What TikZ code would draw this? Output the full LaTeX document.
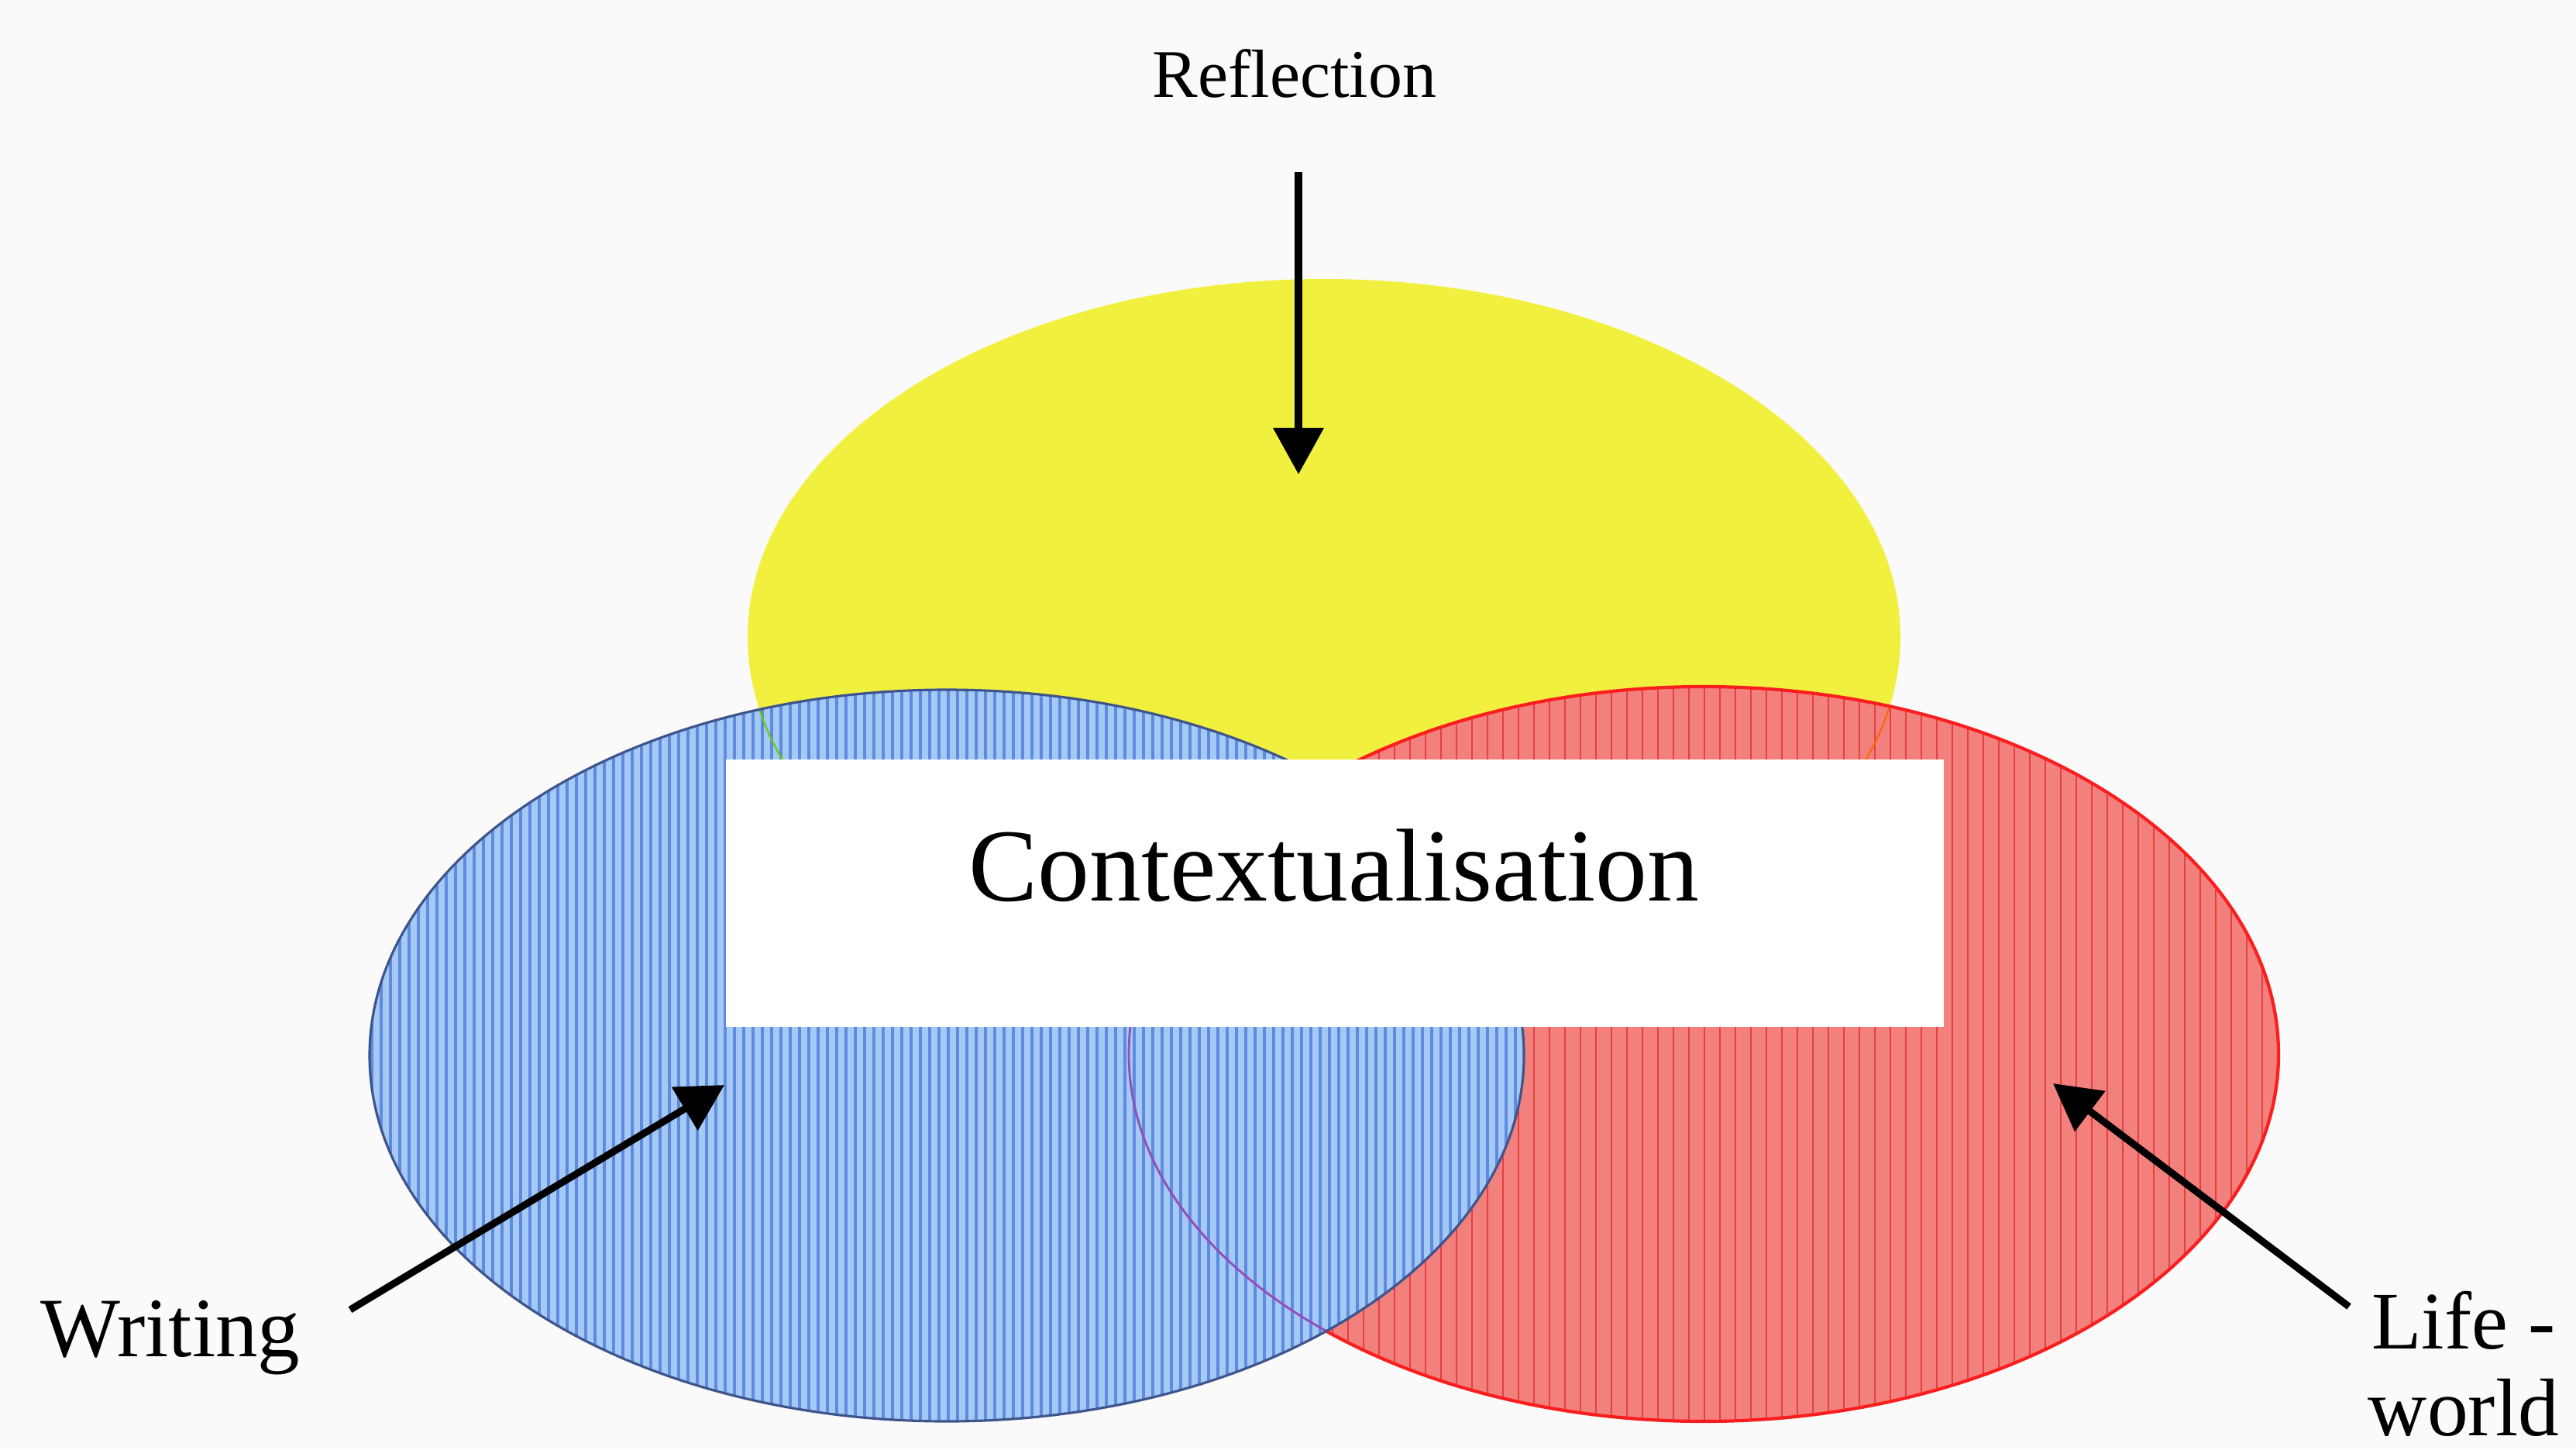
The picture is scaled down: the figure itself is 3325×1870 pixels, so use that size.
\documentclass[tikz,border=0pt]{standalone}
\usepackage{fontspec}
\setmainfont{Liberation Serif}
\usetikzlibrary{arrows.meta}
\definecolor{bg}{RGB}{250,250,250}
\definecolor{yel}{RGB}{242,240,62}
\definecolor{bluebase}{RGB}{165,200,244}
\definecolor{bluestripe}{RGB}{92,140,222}
\definecolor{blueedge}{RGB}{62,84,140}
\definecolor{redbase}{RGB}{242,128,124}
\definecolor{redstripe}{RGB}{228,64,64}
\definecolor{rededge}{RGB}{250,30,30}
\tikzset{
  pointer/.style={line width=2.6pt, black, -{Triangle[width=18pt,length=17pt]}},
  lbl/.style={inner sep=0pt, font=\fontsize{31}{33}\selectfont},
  boxlbl/.style={fill=white, draw=none, minimum width=1572*0.01cm, minimum height=345*0.01cm, inner sep=0pt}
}
\begin{document}
\begin{tikzpicture}[x=0.01cm,y=-0.01cm]
\fill[bg] (0,0) rectangle (3325,1870);
\useasboundingbox (0,0) rectangle (3325,1870);

% yellow ellipse
\fill[yel] (1709,822) ellipse [x radius=744, y radius=462];

% red ellipse with stripes
\begin{scope}
  \clip (2199,1360) ellipse [x radius=742, y radius=474];
  \fill[redbase] (1450,880) rectangle (2950,1840);
  \foreach \i in {1460,1480,...,2940} \draw[redstripe, line width=0.6pt] (\i,880) -- (\i,1840);
  % yellow edge seen through red
  \draw[orange!80!red, line width=0.6pt] (1709,822) ellipse [x radius=744, y radius=462];
\end{scope}
\draw[rededge, line width=1.2pt] (2199,1360) ellipse [x radius=742, y radius=474];

% blue ellipse with stripes
\begin{scope}
  \clip (1222,1362) ellipse [x radius=745, y radius=472];
  \fill[bluebase] (470,880) rectangle (1975,1840);
  \foreach \i in {480,492,...,1970} \draw[bluestripe, line width=1.2pt] (\i,880) -- (\i,1840);
  % red and yellow edges seen through blue
  \draw[blue!60!red!70!white, line width=0.8pt] (2199,1360) ellipse [x radius=742, y radius=474];
  \draw[green!50!yellow!80!black, line width=0.6pt] (1709,822) ellipse [x radius=744, y radius=462];
\end{scope}
\draw[blueedge, line width=0.9pt] (1222,1362) ellipse [x radius=745, y radius=472];

% central box
\node[boxlbl] (ctx) at (1723,1152) {};
\node[inner sep=0pt, font=\fontsize{38}{44}\selectfont] (ctxtext) at (1722,1117) {Contextualisation};

% labels
\node[lbl, font=\fontsize{25}{30}\selectfont] (refl) at (1671,95) {Reflection};
\node[lbl] (writ) at (220,1726) {Writing};
\node[lbl, align=center, font=\fontsize{30}{32}\selectfont] (life) at (3180,1760) {Life -\\world};

% arrow ends
\coordinate (rt) at (1676,222);
\coordinate (rh) at (1676,612);
\coordinate (wt) at (452,1690);
\coordinate (wh) at (935,1400);
\coordinate (lt) at (3032,1686);
\coordinate (lh) at (2650,1398);

\draw[pointer] (rt) -- (rh);
\draw[pointer] (wt) -- (wh);
\draw[pointer] (lt) -- (lh);
\end{tikzpicture}
\end{document}
